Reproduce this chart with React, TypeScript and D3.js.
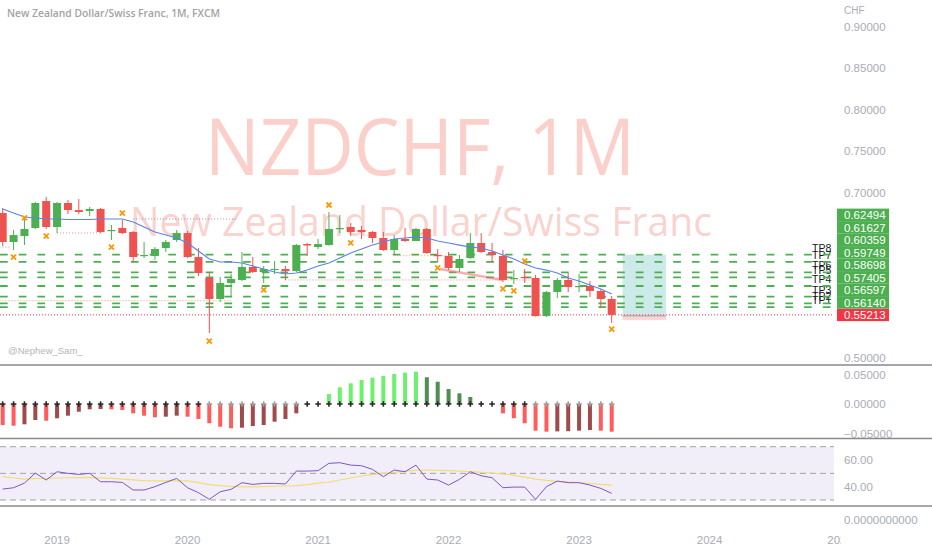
import React from 'react';
import * as d3 from 'd3';

// monthly bars, Aug 2018 .. Apr 2023
const months = d3.utcMonth.range(new Date(Date.UTC(2018, 7, 1)), new Date(Date.UTC(2023, 4, 1)));

const open = [0.6752, 0.6402, 0.6474, 0.6571, 0.6897, 0.6583, 0.6873, 0.6788, 0.6776, 0.6801, 0.6535, 0.6571, 0.6523, 0.6233, 0.6233, 0.6329, 0.6426, 0.6510, 0.6220, 0.5967, 0.5713, 0.5906, 0.5943, 0.6100, 0.6039, 0.6063, 0.6075, 0.6051, 0.6377, 0.6341, 0.6365, 0.6559, 0.6583, 0.6547, 0.6523, 0.6450, 0.6305, 0.6438, 0.6414, 0.6559, 0.6245, 0.6233, 0.6088, 0.6208, 0.6390, 0.6281, 0.6233, 0.5955, 0.5979, 0.5967, 0.5507, 0.5797, 0.5943, 0.5858, 0.5870, 0.5810, 0.5713];
const high = [0.6813, 0.6547, 0.6704, 0.6885, 0.6946, 0.6885, 0.6909, 0.6921, 0.6825, 0.6813, 0.6607, 0.6668, 0.6535, 0.6402, 0.6341, 0.6426, 0.6547, 0.6535, 0.6329, 0.6039, 0.5979, 0.6015, 0.6281, 0.6220, 0.6112, 0.6172, 0.6112, 0.6377, 0.6390, 0.6438, 0.6764, 0.6728, 0.6631, 0.6595, 0.6535, 0.6523, 0.6486, 0.6571, 0.6571, 0.6571, 0.6317, 0.6281, 0.6245, 0.6510, 0.6510, 0.6390, 0.6305, 0.6063, 0.6075, 0.6003, 0.5810, 0.5967, 0.6027, 0.6015, 0.5930, 0.5834, 0.5749];
const low = [0.6353, 0.6305, 0.6365, 0.6559, 0.6559, 0.6510, 0.6740, 0.6740, 0.6716, 0.6510, 0.6426, 0.6498, 0.6160, 0.6208, 0.6184, 0.6281, 0.6402, 0.6208, 0.5991, 0.5302, 0.5677, 0.5749, 0.5930, 0.6027, 0.5906, 0.6015, 0.5943, 0.6039, 0.6233, 0.6317, 0.6359, 0.6510, 0.6474, 0.6438, 0.6390, 0.6293, 0.6245, 0.6402, 0.6414, 0.6257, 0.6160, 0.6063, 0.6039, 0.6196, 0.6269, 0.6160, 0.5918, 0.5894, 0.5906, 0.5501, 0.5495, 0.5725, 0.5797, 0.5797, 0.5737, 0.5604, 0.5423];
const close = [0.6402, 0.6486, 0.6559, 0.6873, 0.6583, 0.6873, 0.6788, 0.6764, 0.6801, 0.6523, 0.6547, 0.6510, 0.6220, 0.6245, 0.6317, 0.6402, 0.6510, 0.6220, 0.6027, 0.5713, 0.5906, 0.5955, 0.6100, 0.6039, 0.6075, 0.6077, 0.6051, 0.6365, 0.6359, 0.6377, 0.6559, 0.6571, 0.6523, 0.6523, 0.6450, 0.6305, 0.6438, 0.6414, 0.6559, 0.6269, 0.6233, 0.6088, 0.6196, 0.6390, 0.6281, 0.6245, 0.5943, 0.5967, 0.5967, 0.5507, 0.5797, 0.5943, 0.5858, 0.5870, 0.5810, 0.5713, 0.55213];
const ema = [0.6801, 0.6752, 0.6704, 0.6692, 0.6680, 0.6680, 0.6674, 0.6674, 0.6674, 0.6680, 0.6680, 0.6680, 0.6643, 0.6583, 0.6523, 0.6486, 0.6450, 0.6390, 0.6293, 0.6196, 0.6160, 0.6160, 0.6148, 0.6112, 0.6075, 0.6039, 0.6015, 0.6027, 0.6063, 0.6112, 0.6148, 0.6208, 0.6269, 0.6317, 0.6365, 0.6402, 0.6438, 0.6450, 0.6462, 0.6450, 0.6414, 0.6390, 0.6365, 0.6341, 0.6329, 0.6293, 0.6245, 0.6196, 0.6136, 0.6088, 0.6063, 0.6027, 0.5967, 0.5930, 0.5882, 0.5834, 0.5773];

// fractal marks
const markIdx = [1, 2, 4, 10, 11, 19, 24, 30, 32, 40, 46, 47, 48, 56];
const markPrice = [0.6220, 0.6692, 0.6474, 0.6341, 0.6752, 0.5205, 0.5822, 0.6849, 0.6390, 0.6088, 0.5834, 0.5810, 0.6172, 0.5350];

// small dotted levels
const lvlFrom = [-0.3, 5, -0.3, 12, 26, 36];
const lvlTo = [0.8, 9, 21, 21.6, 48.5, 41];
const lvlPrice = [0.6341, 0.6511, 0.5692, 0.6680, 0.5943, 0.6236];
const trendIdx = [40.2, 46];
const trendPrice = [0.6076, 0.5943];

const entryPrice = 0.55213;
const stopPrice = 0.5458;
const tpPrices = [0.56140, 0.56597, 0.57405, 0.58698, 0.59749, 0.60359, 0.61627, 0.62494];
const tpNames = ['TP1', 'TP2', 'TP3', 'TP4', 'TP5', 'TP6', 'TP7', 'TP8'];
const boxIdx = [57, 61];

// squeeze momentum
const sqz = [-0.0356, -0.0368, -0.0344, -0.0271, -0.0283, -0.0242, -0.0198, -0.0131, -0.0090, -0.0085, -0.0090, -0.0102, -0.0158, -0.0198, -0.0225, -0.0215, -0.0198, -0.0215, -0.0254, -0.0327, -0.0385, -0.0412, -0.0402, -0.0373, -0.0356, -0.0300, -0.0254, -0.0158, -0.0017, 0.0008, 0.0169, 0.0283, 0.0351, 0.0407, 0.0446, 0.0475, 0.0508, 0.0531, 0.0547, 0.0453, 0.0378, 0.0254, 0.0181, 0.0119, 0.0017, -0.0008, -0.0158, -0.0242, -0.0327, -0.0452, -0.0469, -0.0464, -0.0461, -0.0452, -0.0441, -0.0452, -0.0469];
const sqzOff = [19, 20, 21, 22, 23, 24, 25, 26, 27, 49, 50, 51, 52, 53, 54, 55, 56];

// RSI and its MA
const rsi = [38.2, 39.2, 42.7, 50.2, 45, 51.2, 50, 49.2, 50, 43.7, 43.7, 43.2, 37.5, 37.5, 40, 43.2, 46.2, 39.2, 35.5, 30.5, 36.2, 38, 43, 41.7, 42.5, 42.5, 42, 51.7, 51.7, 52, 57.5, 58, 56.2, 55.7, 53, 47.5, 52.5, 51.2, 56.2, 45.7, 45, 41.2, 45.5, 51.2, 48.2, 46.7, 39.2, 39.7, 39.7, 30.5, 40, 44.2, 43, 43, 41.2, 38.7, 35];
const rsiMa = [47.6, 46.5, 45.7, 46.1, 46.2, 46.5, 46.7, 46.8, 47, 46.6, 46.2, 45.7, 45.1, 44.6, 44.4, 44.4, 44.4, 44.4, 43.1, 41.6, 40.8, 40.2, 39.9, 39.9, 40.1, 40.3, 40.5, 40.8, 41.6, 42.7, 43.5, 45, 46.5, 48, 49.1, 50.2, 50.8, 51.7, 52.3, 52.5, 52.3, 52, 51.7, 51.4, 50.8, 50.2, 49.5, 48.5, 47.2, 45.7, 44.7, 44, 43.5, 43, 42.4, 41.7, 41.2];

const priceTicks = d3.range(0, 9).map(k => 0.5 + k * 0.05);
const histTicks = [0.05, 0, -0.05];
const rsiTicks = [60, 40];
const rsiBands = [70, 50, 30];
const years = [2019, 2020, 2021, 2022, 2023, 2024, 2025];

const W = 932;
const H = 550;
const plotR = 834;
const axisX = 844;
const font = '"Liberation Sans", Arial, sans-serif';
const axisColor = '#a9acb4';
const up = '#4caf50';
const down = '#ef5350';

const App: React.FC = () => {
  const x = d3.scaleLinear().domain([0, months.length - 1]).range([2.7, 611.7]);
  const yMain = d3.scaleLinear().domain([0.5, 0.9]).range([358, 27]);
  const yHist = d3.scaleLinear().domain([-0.05, 0.05]).range([433.5, 374.5]);
  const yRsi = d3.scaleLinear().domain([30, 70]).range([500, 446.7]);

  const emaLine = d3.line<number>().x((d, i) => x(i)).y(d => yMain(d));
  const rsiLine = d3.line<number>().x((d, i) => x(i)).y(d => yRsi(d));

  // stacked price labels on the right scale
  const labelPrices = [entryPrice, ...tpPrices];
  const labelY: number[] = [];
  labelPrices.forEach((p, k) => {
    const y = yMain(p);
    labelY.push(k === 0 ? y : Math.min(y, labelY[k - 1] - 12.5));
  });

  const barColor = (i: number) => {
    const v = sqz[i];
    const prev = i > 0 ? sqz[i - 1] : 0;
    if (v >= 0) return v > prev ? '#6ef06e' : '#4f8f4f';
    return v < prev ? '#ff5c5c' : '#a04b4b';
  };

  const lvlStroke = ['#f48a8a', '#f48a8a', '#f48a8a', '#9a86d6', '#f48a8a', '#f5a25a'];

  const yearIdx = (yr: number) => d3.utcMonth.count(months[0], new Date(Date.UTC(yr, 0, 1)));

  return (
    <svg width={W} height={H} style={{ position: 'absolute', left: 0, top: 0, background: '#fff' }} fontFamily={font}>
      <defs>
        <clipPath id="plot"><rect x={0} y={0} width={841} height={H} /></clipPath>
      </defs>

      {/* watermark */}
      <text x={420} y={175} textAnchor="middle" fontSize={78} fill="rgba(240,80,60,0.27)" textLength={430} lengthAdjust="spacingAndGlyphs" fontFamily='"Open Sans", sans-serif'>NZDCHF, 1M</text>
      <text x={421} y={236} textAnchor="middle" fontSize={40} fill="rgba(240,80,60,0.27)" textLength={582} lengthAdjust="spacingAndGlyphs" fontFamily='"Open Sans", sans-serif'>New Zealand Dollar/Swiss Franc</text>

      {/* title */}
      <text x={7} y={17} fontSize={11} fontWeight={600} fill="#a3a3a3" textLength={213} lengthAdjust="spacingAndGlyphs" fontFamily='"Open Sans", sans-serif'>New Zealand Dollar/Swiss Franc, 1M, FXCM</text>
      <text x={axisX} y={14} fontSize={10} fill={axisColor}>CHF</text>
      <text x={8} y={354} fontSize={9.5} fill="#b5b5b5">@Nephew_Sam_</text>

      <g clipPath="url(#plot)">
        {/* position box */}
        <rect x={x(boxIdx[0])} width={x(boxIdx[1]) - x(boxIdx[0])} y={yMain(tpPrices[7])} height={yMain(entryPrice) - yMain(tpPrices[7])} fill="rgba(0,150,136,0.2)" />
        <rect x={x(boxIdx[0])} width={x(boxIdx[1]) - x(boxIdx[0])} y={yMain(entryPrice)} height={yMain(stopPrice) - yMain(entryPrice)} fill="rgba(242,54,69,0.2)" />
        <line x1={x(boxIdx[0])} x2={x(boxIdx[1])} y1={yMain(entryPrice) + 1} y2={yMain(entryPrice) + 1} stroke="#9e9e9e" strokeWidth={1} />

        {/* TP dashed levels */}
        {tpPrices.map((p, k) => (
          <g key={'tp' + k}>
            <line x1={0} x2={plotR} y1={yMain(p)} y2={yMain(p)} stroke="#4caf50" strokeWidth={1.8} strokeDasharray="7.7,11" />
            <text x={812} y={yMain(p) - 3} fontSize={10.5} fill="#131722">{tpNames[k]}</text>
          </g>
        ))}
        <line x1={0} x2={plotR} y1={yMain(entryPrice)} y2={yMain(entryPrice)} stroke="#f23645" strokeWidth={1} strokeDasharray="1,2" />

        {lvlPrice.map((p, k) => (
          <line key={'lv' + k} x1={x(lvlFrom[k])} x2={x(lvlTo[k])} y1={yMain(p)} y2={yMain(p)} stroke={lvlStroke[k]} strokeWidth={1} strokeDasharray="1,2" />
        ))}
        <line x1={x(trendIdx[0])} x2={x(trendIdx[1])} y1={yMain(trendPrice[0])} y2={yMain(trendPrice[1])} stroke="rgba(240,110,110,0.55)" strokeWidth={2.5} />

        {/* candles */}
        {months.map((m, i) => {
          const c = close[i] >= open[i] ? up : down;
          const top = yMain(Math.max(open[i], close[i]));
          const bot = yMain(Math.min(open[i], close[i]));
          return (
            <g key={'c' + i}>
              <line x1={x(i)} x2={x(i)} y1={yMain(high[i])} y2={yMain(low[i])} stroke={c} strokeWidth={1} />
              <rect x={x(i) - 4} width={8} y={top} height={Math.max(1.2, bot - top)} fill={c} />
            </g>
          );
        })}

        <path d={emaLine(ema) || ''} fill="none" stroke="#5b84e8" strokeWidth={1.2} />

        {markIdx.map((idx, k) => {
          const cx = x(idx);
          const cy = yMain(markPrice[k]);
          return (
            <path key={'m' + k} d={`M${cx - 2.5},${cy - 2.5}L${cx + 2.5},${cy + 2.5}M${cx - 2.5},${cy + 2.5}L${cx + 2.5},${cy - 2.5}`} stroke="#ff9800" strokeWidth={1.8} />
          );
        })}

        {/* squeeze momentum pane */}
        {sqz.map((v, i) => (
          <rect key={'h' + i} x={x(i) - 2} width={4} y={Math.min(yHist(v), yHist(0))} height={Math.abs(yHist(v) - yHist(0))} fill={barColor(i)} />
        ))}
        {sqz.map((v, i) => {
          const cx = x(i);
          const cy = yHist(0);
          const col = sqzOff.includes(i) ? '#9e9e9e' : '#2a2a2a';
          return <path key={'s' + i} d={`M${cx - 2.8},${cy}H${cx + 2.8}M${cx},${cy - 2.8}V${cy + 2.8}`} stroke={col} strokeWidth={1.6} />;
        })}

        {/* RSI pane */}
        <rect x={0} width={plotR} y={yRsi(70)} height={yRsi(30) - yRsi(70)} fill="rgba(126,87,194,0.1)" />
        {rsiBands.map(b => (
          <line key={'b' + b} x1={0} x2={plotR} y1={yRsi(b)} y2={yRsi(b)} stroke="#a3a3a3" strokeWidth={1} strokeDasharray="6,4" />
        ))}
        <path d={rsiLine(rsiMa) || ''} fill="none" stroke="#f3dd72" strokeWidth={1.2} />
        <path d={rsiLine(rsi) || ''} fill="none" stroke="#7e57c2" strokeWidth={1} />

        {/* time axis */}
        {years.map(yr => (
          <text key={yr} x={x(yearIdx(yr))} y={544} textAnchor="middle" fontSize={11.5} fill={axisColor}>{yr}</text>
        ))}
      </g>

      {/* pane separators */}
      {[365, 438.5, 506].map(y => (
        <line key={'sep' + y} x1={0} x2={W} y1={y} y2={y} stroke="#8a8a8a" strokeWidth={1.5} />
      ))}

      {/* right scales */}
      {priceTicks.map(t => (
        <text key={'pt' + t} x={axisX} y={yMain(t)} dy="0.35em" fontSize={11.5} fill={axisColor}>{t.toFixed(5)}</text>
      ))}
      {histTicks.map(t => (
        <text key={'ht' + t} x={axisX} y={yHist(t)} dy="0.35em" fontSize={11.5} fill={axisColor}>{t < 0 ? '\u2212' + Math.abs(t).toFixed(5) : t.toFixed(5)}</text>
      ))}
      {rsiTicks.map(t => (
        <text key={'rt' + t} x={axisX} y={yRsi(t)} dy="0.35em" fontSize={11.5} fill={axisColor}>{t.toFixed(2)}</text>
      ))}
      <text x={axisX} y={520} dy="0.35em" fontSize={11.5} fill={axisColor}>0.0000000000</text>

      {labelPrices.map((p, k) => (
        <g key={'lb' + k}>
          <rect x={837} width={52} y={labelY[k] - 6.25} height={12.5} fill={k === 0 ? '#f23645' : '#4caf50'} />
          <text x={844} y={labelY[k]} dy="0.36em" fontSize={11.5} fill="#fff">{p.toFixed(5)}</text>
        </g>
      ))}
    </svg>
  );
};

export default App;
